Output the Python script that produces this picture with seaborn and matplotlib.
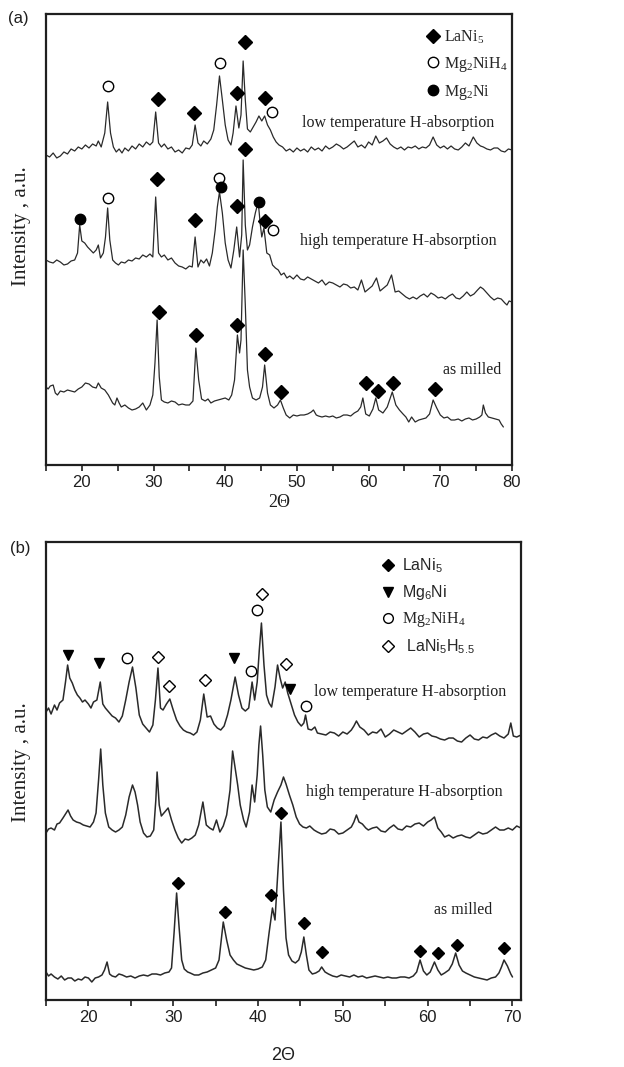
import numpy as np
import pandas as pd
import matplotlib
matplotlib.use('Agg')
import matplotlib.pyplot as plt
from matplotlib.lines import Line2D
import seaborn as sns

# XRD patterns: (2theta, intensity in arbitrary units)
# panel (a)
a_low = [(15.0,310),(15.5,308),(16.0,312),(16.5,307),(17.0,309),(17.5,313),(18.0,311),(18.5,316),(19.0,314),(19.5,318),
         (20.0,316),(20.5,320),(21.0,317),(21.5,321),(22.0,319),(22.3,324),(22.7,318),(23.2,332),(23.6,363),(24.0,332),
         (24.4,318),(24.8,313),(25.2,316),(25.6,312),(26.0,317),(26.5,314),(27.0,319),(27.5,316),(28.0,321),(28.5,318),
         (29.0,323),(29.5,320),(29.9,323),(30.3,353),(30.7,322),(31.1,318),(31.5,321),(32.0,316),(32.5,318),(33.0,313),
         (33.5,315),(34.0,312),(34.5,317),(35.0,316),(35.4,320),(35.8,340),(36.2,322),(36.6,319),(37.0,324),(37.5,321),
         (38.0,326),(38.4,335),(38.8,360),(39.2,389),(39.6,365),(40.0,340),(40.4,325),(40.8,320),(41.1,332),(41.5,359),
         (41.9,337),(42.2,350),(42.5,404),(42.8,365),(43.1,336),(43.5,333),(43.9,338),(44.3,343),(44.7,349),(45.1,344),
         (45.5,349),(45.9,340),(46.3,335),(46.7,328),(47.1,323),(47.5,320),(48.0,318),(48.5,314),(49.0,316),(49.5,313),
         (50.0,317),(50.5,314),(51.0,316),(51.5,313),(52.0,318),(52.5,315),(53.0,317),(53.5,314),(54.0,319),(54.5,316),
         (55.0,318),(55.5,321),(56.0,319),(56.5,316),(57.0,318),(57.5,321),(58.0,324),(58.5,318),(59.0,320),(59.5,317),
         (60.0,323),(60.5,320),(61.0,329),(61.5,322),(62.0,324),(62.5,327),(63.0,321),(63.5,318),(64.0,316),(64.5,318),
         (65.0,315),(65.5,318),(66.0,317),(66.5,319),(67.0,316),(67.5,318),(68.0,317),(68.5,320),(69.0,328),(69.5,320),
         (70.0,317),(70.5,319),(71.0,316),(71.5,319),(72.0,316),(72.5,315),(73.0,318),(73.5,322),(74.0,319),(74.6,328),
         (75.1,322),(75.6,319),(76.0,318),(76.5,316),(77.0,315),(77.5,317),(78.0,317),(78.5,314),(79.0,313),(79.5,316),
         (80.0,315)]

a_high = [(15.0,205),(15.5,203),(16.0,202),(16.5,205),(17.0,203),(17.5,200),(18.0,201),(18.5,204),(19.0,205),(19.4,212),
          (19.7,240),(20.0,224),(20.4,222),(20.8,218),(21.2,215),(21.6,212),(22.0,215),(22.3,220),(22.6,207),(23.0,212),
          (23.3,228),(23.6,257),(23.9,225),(24.3,205),(24.7,202),(25.1,200),(25.5,203),(26.0,202),(26.5,205),(27.0,204),
          (27.5,207),(28.0,206),(28.5,210),(29.0,208),(29.5,211),(29.9,208),(30.3,268),(30.7,212),(31.1,208),(31.5,210),
          (32.0,205),(32.5,207),(33.0,202),(33.5,199),(34.0,198),(34.5,196),(35.0,199),(35.4,198),(35.8,228),(36.2,198),
          (36.6,205),(37.0,202),(37.4,206),(37.8,199),(38.2,212),(38.6,235),(38.9,258),(39.2,273),(39.6,252),(40.0,222),
          (40.4,205),(40.8,197),(41.2,215),(41.6,238),(42.0,208),(42.3,230),(42.5,305),(42.8,240),(43.1,215),(43.4,220),
          (43.8,238),(44.2,252),(44.6,263),(44.9,240),(45.1,228),(45.4,237),(45.8,212),(46.2,210),(46.6,200),(47.0,197),
          (47.4,195),(47.8,190),(48.2,192),(48.6,187),(49.0,189),(49.5,186),(50.0,190),(50.5,186),(51.0,185),(51.5,188),
          (52.0,186),(52.5,184),(53.0,182),(53.5,185),(54.0,180),(54.5,183),(55.0,182),(55.5,180),(56.0,178),(56.5,181),
          (57.0,180),(57.5,177),(58.0,178),(58.5,175),(59.0,185),(59.5,173),(60.0,176),(60.5,179),(61.1,187),(61.6,174),
          (62.1,177),(62.6,180),(63.2,190),(63.7,173),(64.2,174),(64.7,171),(65.2,168),(65.7,166),(66.2,168),(66.7,166),
          (67.2,169),(67.7,171),(68.2,168),(68.7,172),(69.2,170),(69.7,167),(70.2,168),(70.7,166),(71.2,169),(71.7,171),
          (72.2,167),(72.7,166),(73.2,169),(73.7,173),(74.2,169),(74.7,171),(75.2,175),(75.6,178),(76.0,176),(76.5,172),
          (77.0,168),(77.5,165),(78.0,167),(78.5,166),(79.0,162),(79.3,160),(79.6,164),(80.0,163)]

a_milled = [(15.0,78),(15.3,76),(15.6,79),(16.0,80),(16.3,72),(16.6,70),(17.0,74),(17.5,73),(18.0,75),(18.5,74),
            (19.0,73),(19.5,76),(20.0,78),(20.5,82),(21.0,81),(21.5,78),(22.0,77),(22.3,82),(22.7,77),(23.2,75),
            (23.7,70),(24.0,66),(24.3,62),(24.6,60),(24.9,67),(25.2,62),(25.5,58),(26.0,60),(26.5,57),(27.0,55),
            (27.5,56),(28.0,58),(28.5,62),(29.0,55),(29.5,60),(29.9,70),(30.2,102),(30.5,145),(30.8,88),(31.1,65),
            (31.5,63),(32.0,62),(32.5,64),(33.0,63),(33.5,60),(34.0,61),(34.5,60),(35.0,60),(35.5,64),(35.9,117),
            (36.3,85),(36.7,66),(37.2,64),(37.6,66),(38.0,62),(38.5,64),(39.0,65),(39.5,66),(40.0,67),(40.5,65),
            (40.9,70),(41.3,85),(41.7,130),(42.0,112),(42.2,125),(42.5,215),(42.8,160),(43.1,95),(43.4,78),(43.8,67),
            (44.3,65),(44.8,67),(45.2,78),(45.5,100),(45.9,72),(46.3,60),(46.8,57),(47.3,60),(47.7,65),(48.1,57),
            (48.5,50),(49.0,47),(49.5,50),(50.0,49),(50.5,50),(51.0,50),(51.5,51),(52.0,53),(52.3,55),(52.7,50),
            (53.0,49),(53.5,48),(54.0,49),(54.5,48),(55.0,49),(55.5,47),(56.0,48),(56.5,50),(57.0,50),(57.5,49),
            (58.0,52),(58.5,54),(58.9,58),(59.2,67),(59.6,51),(60.1,49),(60.6,56),(61.0,67),(61.4,55),(62.0,52),
            (62.6,58),(63.3,73),(63.8,60),(64.3,55),(64.8,51),(65.2,48),(65.6,43),(66.0,48),(66.5,43),(67.0,45),
            (67.5,46),(68.0,47),(68.5,51),(69.0,65),(69.5,57),(70.0,50),(70.5,47),(71.0,48),(71.5,45),(72.0,45),
            (72.5,46),(73.0,44),(73.5,46),(74.0,47),(74.5,45),(75.0,46),(75.5,48),(75.8,50),(76.0,60),(76.3,52),
            (76.7,48),(77.2,47),(77.7,46),(78.2,45),(78.5,41),(78.8,38)]

# phase markers, panel (a)
a_lani5 = [(30.6,366),(35.6,352),(41.6,372),(42.7,423),(45.5,367),
           (30.5,286),(35.8,245),(41.6,259),(42.7,316),(45.6,244),
           (30.7,153),(35.9,130),(41.7,140),(45.5,111),(47.8,73),(59.6,82),(61.3,74),(63.4,82),(69.3,76)]
a_mg2nih4 = [(23.6,379),(39.3,402),(46.5,353),(23.6,267),(39.1,287),(46.6,235)]
a_mg2ni = [(19.7,246),(39.4,278),(44.7,263)]

# panel (b)
b_low = [(15.0,288),(15.3,292),(15.6,286),(16.0,295),(16.3,290),(16.6,297),(17.0,300),(17.3,318),(17.55,335),(17.8,322),
         (18.1,317),(18.4,310),(18.7,305),(19.0,302),(19.3,298),(19.6,300),(20.0,296),(20.3,292),(20.6,298),(21.0,300),
         (21.4,318),(21.7,296),(22.0,292),(22.4,288),(22.8,284),(23.2,282),(23.6,278),(24.0,284),(24.4,300),(24.8,318),
         (25.2,333),(25.6,312),(26.0,285),(26.4,276),(26.8,272),(27.2,268),(27.6,275),(27.9,300),(28.2,332),(28.5,292),
         (28.8,290),(29.2,296),(29.6,301),(30.0,290),(30.4,280),(30.8,274),(31.2,270),(31.6,268),(32.0,267),(32.4,265),
         (32.8,268),(33.2,280),(33.6,306),(34.0,283),(34.4,284),(34.8,276),(35.2,272),(35.6,270),(36.0,274),(36.4,285),
         (36.8,300),(37.3,323),(37.7,305),(38.1,292),(38.5,289),(38.9,292),(39.3,318),(39.6,300),(39.9,318),(40.15,350),
         (40.4,377),(40.7,335),(41.0,305),(41.3,297),(41.6,293),(42.0,313),(42.3,335),(42.6,322),(42.9,312),(43.2,318),
         (43.5,307),(43.9,296),(44.3,285),(44.7,278),(45.1,274),(45.4,277),(45.6,285),(45.9,271),(46.3,270),(46.7,273),
         (47.0,267),(47.5,266),(48.0,265),(48.5,268),(49.0,267),(49.5,264),(50.0,268),(50.5,266),(51.0,270),(51.3,274),
         (51.6,279),(52.0,273),(52.5,270),(53.0,265),(53.5,268),(54.0,267),(54.5,271),(55.0,263),(55.5,266),(56.0,270),
         (56.5,268),(57.0,266),(57.5,269),(58.0,272),(58.5,268),(59.0,263),(59.5,266),(60.0,267),(60.5,264),(61.0,263),
         (61.5,261),(62.0,260),(62.5,262),(63.0,262),(63.5,259),(64.0,258),(64.5,262),(65.0,265),(65.5,261),(66.0,260),
         (66.5,263),(67.0,262),(67.5,265),(68.0,267),(68.5,264),(69.0,262),(69.5,266),(69.8,277),(70.1,264),(70.5,263),
         (71.0,265)]

b_high = [(15.0,167),(15.3,171),(15.6,172),(16.0,170),(16.3,176),(16.6,177),(17.0,182),(17.3,186),(17.6,190),(17.9,184),
          (18.2,180),(18.6,178),(19.0,177),(19.4,175),(19.8,174),(20.2,173),(20.6,178),(20.9,187),(21.2,220),(21.45,251),
          (21.7,215),(22.0,187),(22.4,173),(22.8,170),(23.2,168),(23.6,170),(24.0,173),(24.4,185),(24.8,203),(25.2,215),
          (25.5,208),(25.8,195),(26.1,178),(26.5,167),(26.9,163),(27.3,164),(27.7,170),(27.95,200),(28.1,228),(28.35,195),
          (28.6,184),(29.0,188),(29.4,192),(29.8,180),(30.2,170),(30.6,162),(31.0,157),(31.4,161),(31.8,160),(32.2,162),
          (32.6,165),(33.0,175),(33.5,198),(33.9,175),(34.3,172),(34.7,170),(35.1,180),(35.5,168),(35.9,174),(36.3,185),
          (36.7,210),(37.0,249),(37.3,232),(37.6,215),(37.9,195),(38.3,180),(38.6,173),(39.0,188),(39.3,215),(39.6,198),
          (39.9,225),(40.1,255),(40.3,274),(40.55,245),(40.8,210),(41.1,193),(41.5,188),(41.9,200),(42.3,208),(42.7,215),
          (43.0,223),(43.3,216),(43.7,205),(44.1,195),(44.5,183),(44.9,176),(45.3,173),(45.7,172),(46.1,174),(46.6,170),
          (47.0,168),(47.5,166),(48.0,167),(48.5,171),(49.0,170),(49.5,166),(50.0,167),(50.5,170),(51.0,173),(51.3,178),
          (51.6,185),(51.9,178),(52.3,176),(52.7,172),(53.0,170),(53.5,172),(54.0,173),(54.5,169),(55.0,168),(55.5,172),
          (56.0,175),(56.5,171),(57.0,170),(57.5,174),(58.0,173),(58.5,176),(59.0,177),(59.5,174),(60.0,178),(60.4,180),
          (60.8,183),(61.2,172),(61.6,168),(62.0,163),(62.5,165),(63.0,162),(63.5,164),(64.0,165),(64.5,163),(65.0,162),
          (65.5,165),(66.0,168),(66.5,166),(67.0,167),(67.5,170),(68.0,173),(68.5,170),(69.0,170),(69.5,172),(70.0,170),
          (70.5,174),(71.0,172)]

b_milled = [(15.0,28),(15.3,24),(15.6,26),(16.0,23),(16.4,21),(16.8,24),(17.2,20),(17.6,22),(18.0,22),(18.4,19),
            (18.8,21),(19.2,20),(19.6,23),(20.0,22),(20.4,18),(20.8,22),(21.2,23),(21.6,25),(21.9,30),(22.2,38),
            (22.5,26),(22.8,24),(23.2,23),(23.6,26),(24.0,25),(24.5,23),(25.0,24),(25.5,22),(26.0,24),(26.5,25),
            (27.0,24),(27.5,26),(28.0,26),(28.5,25),(29.0,27),(29.5,28),(29.8,32),(30.1,67),(30.4,107),(30.7,72),
            (31.0,40),(31.3,31),(31.7,28),(32.0,27),(32.5,25),(33.0,25),(33.5,27),(34.0,28),(34.5,30),(35.0,32),
            (35.4,40),(35.9,78),(36.3,60),(36.7,45),(37.1,40),(37.5,36),(38.0,34),(38.5,32),(39.0,31),(39.5,30),
            (40.0,31),(40.5,33),(40.9,40),(41.3,67),(41.7,92),(42.0,80),(42.35,130),(42.7,178),(43.0,110),(43.3,62),
            (43.6,45),(44.0,39),(44.4,37),(44.8,40),(45.1,48),(45.4,63),(45.7,45),(46.0,30),(46.4,26),(46.8,27),
            (47.2,29),(47.5,33),(47.9,28),(48.3,26),(48.8,24),(49.3,23),(49.8,25),(50.3,24),(50.8,23),(51.3,25),
            (51.8,23),(52.3,24),(52.8,22),(53.3,23),(53.8,24),(54.3,23),(54.8,22),(55.3,23),(55.8,22),(56.3,22),
            (56.8,23),(57.3,23),(57.8,22),(58.3,24),(58.7,28),(59.1,40),(59.5,29),(59.9,25),(60.3,28),(60.8,38),
            (61.2,30),(61.6,25),(62.0,27),(62.5,30),(62.9,36),(63.3,47),(63.7,35),(64.1,29),(64.5,27),(65.0,25),
            (65.5,23),(66.0,22),(66.5,21),(67.0,20),(67.5,22),(68.0,23),(68.4,27),(68.7,33),(69.0,40),(69.4,34),
            (69.8,26),(70.0,23)]

# phase markers, panel (b)
b_lani5 = [(30.6,117),(36.1,88),(41.55,105),(42.7,187),(45.4,77),(47.5,48),(59.1,49),(61.2,47),(63.4,55),(69.0,52)]
b_mg6ni = [(17.55,345),(21.3,337),(37.2,342),(43.8,311)]
b_mg2nih4 = [(24.5,342),(39.2,329),(39.9,390),(45.6,294)]
b_lani5h = [(28.2,343),(29.5,314),(33.7,320),(40.5,406),(43.3,336)]

sns.set_style('ticks')
plt.rcParams['font.family'] = ['Liberation Sans', 'DejaVu Sans']
plt.rcParams['mathtext.fontset'] = 'custom'
plt.rcParams['mathtext.rm'] = 'Liberation Serif'
plt.rcParams['mathtext.it'] = 'Liberation Serif:italic'
plt.rcParams['mathtext.sf'] = 'Liberation Sans'

SERIF = 'Liberation Serif'
INK = '#1f1f1f'
LINE = '#2a2a2a'


def draw_curve(ax, pts, lw=0.9):
    df = pd.DataFrame(pts, columns=['two_theta', 'intensity'])
    sns.lineplot(data=df, x='two_theta', y='intensity', ax=ax, color=LINE,
                 lw=lw, sort=False, estimator=None)


def draw_marks(ax, pts, marker, filled=True, ms=7):
    xy = np.array(pts)
    ax.plot(xy[:, 0], xy[:, 1], ls='none', marker=marker, ms=ms,
            mec='black', mfc='black' if filled else 'white', mew=1.0, zorder=5)


def style_axes(ax, xmax, ymax, majors):
    ax.set_xlim(15, xmax)
    ax.set_ylim(0, ymax)
    ax.set_xticks(majors)
    ax.set_xticks(np.arange(15, xmax + 0.1, 10), minor=True)
    ax.set_yticks([])
    ax.tick_params(axis='x', which='both', direction='out', length=4, width=1.2,
                   labelsize=12, colors=INK, pad=3)
    for sp in ax.spines.values():
        sp.set_visible(True)
        sp.set_linewidth(1.6)
        sp.set_color(INK)
    ax.set_ylabel('')


fig = plt.figure(figsize=(6.24, 10.67), dpi=100)
ax_a = fig.add_axes([0.0737, 0.5642, 0.7468, 0.4227])
ax_b = fig.add_axes([0.0737, 0.0628, 0.7612, 0.4292])

# ---- panel (a)
for curve in (a_low, a_high, a_milled):
    draw_curve(ax_a, curve)
draw_marks(ax_a, a_lani5, 'D', ms=6.8)
draw_marks(ax_a, a_mg2nih4, 'o', filled=False, ms=7.5)
draw_marks(ax_a, a_mg2ni, 'o', ms=7.5)
style_axes(ax_a, 80, 451, range(20, 81, 10))
ax_a.set_xlabel('2Θ', family=SERIF, size=13, color=INK, labelpad=3)

ax_a.text(50.7, 342, 'low temperature H-absorption', family=SERIF, size=11.5, va='center', color=INK)
ax_a.text(50.4, 224, 'high temperature H-absorption', family=SERIF, size=11.5, va='center', color=INK)
ax_a.text(70.4, 95, 'as milled', family=SERIF, size=11.5, va='center', color=INK)

hd_a = [Line2D([], [], ls='none', marker='D', ms=6.8, color='black'),
        Line2D([], [], ls='none', marker='o', ms=7.5, mec='black', mfc='white'),
        Line2D([], [], ls='none', marker='o', ms=7.5, color='black')]
lab_a = [r'LaNi$_\mathrm{5}$', r'Mg$_\mathrm{2}$NiH$_\mathrm{4}$', r'Mg$_\mathrm{2}$Ni']
leg = ax_a.legend(hd_a, lab_a, loc='upper left', bbox_to_anchor=(0.80, 0.985), frameon=False,
                  handlelength=0.8, handletextpad=0.3, labelspacing=0.55, borderpad=0,
                  prop={'family': SERIF, 'size': 11.5})

# ---- panel (b)
for curve in (b_low, b_high, b_milled):
    draw_curve(ax_b, curve, lw=1.1)
draw_marks(ax_b, b_lani5, 'D', ms=6.5)
draw_marks(ax_b, b_mg6ni, 'v', ms=7.5)
draw_marks(ax_b, b_mg2nih4, 'o', filled=False, ms=7.5)
draw_marks(ax_b, b_lani5h, 'D', filled=False, ms=6.5)
style_axes(ax_b, 71, 458, range(20, 71, 10))
ax_b.set_xlabel('2Θ', size=13, color=INK, labelpad=16)

ax_b.text(46.6, 308, 'low temperature H-absorption', family=SERIF, size=11.5, va='center', color=INK)
ax_b.text(45.7, 208, 'high temperature H-absorption', family=SERIF, size=11.5, va='center', color=INK)
ax_b.text(60.8, 90, 'as milled', family=SERIF, size=11.5, va='center', color=INK)

hd_b = [Line2D([], [], ls='none', marker='D', ms=6, color='black'),
        Line2D([], [], ls='none', marker='v', ms=7, color='black'),
        Line2D([], [], ls='none', marker='o', ms=7, mec='black', mfc='white'),
        Line2D([], [], ls='none', marker='D', ms=6, mec='black', mfc='white')]
lab_b = [r'LaNi$_\mathsf{5}$', r'Mg$_\mathsf{6}$Ni', r'Mg$_\mathrm{2}$NiH$_\mathrm{4}$', r' LaNi$_\mathsf{5}$H$_\mathsf{5.5}$']
leg_b = ax_b.legend(hd_b, lab_b, loc='upper left', bbox_to_anchor=(0.69, 0.985), frameon=False,
                    handlelength=0.8, handletextpad=0.5, labelspacing=0.5, borderpad=0,
                    prop={'size': 11.5})
leg_b.get_texts()[2].set_family(SERIF)

# y labels and panel tags
for yc in (1 - 226 / 1067, 1 - 762 / 1067):
    fig.text(22 / 624, yc, 'Intensity , a.u.', rotation=90, family=SERIF, size=15,
             ha='center', va='center', color=INK)
fig.text(18 / 624, 1 - 18 / 1067, '(a)', size=12, ha='center', va='center', color=INK)
fig.text(20 / 624, 1 - 548 / 1067, '(b)', size=12, ha='center', va='center', color=INK)

fig.savefig('out.png', dpi=100)
plt.close(fig)
